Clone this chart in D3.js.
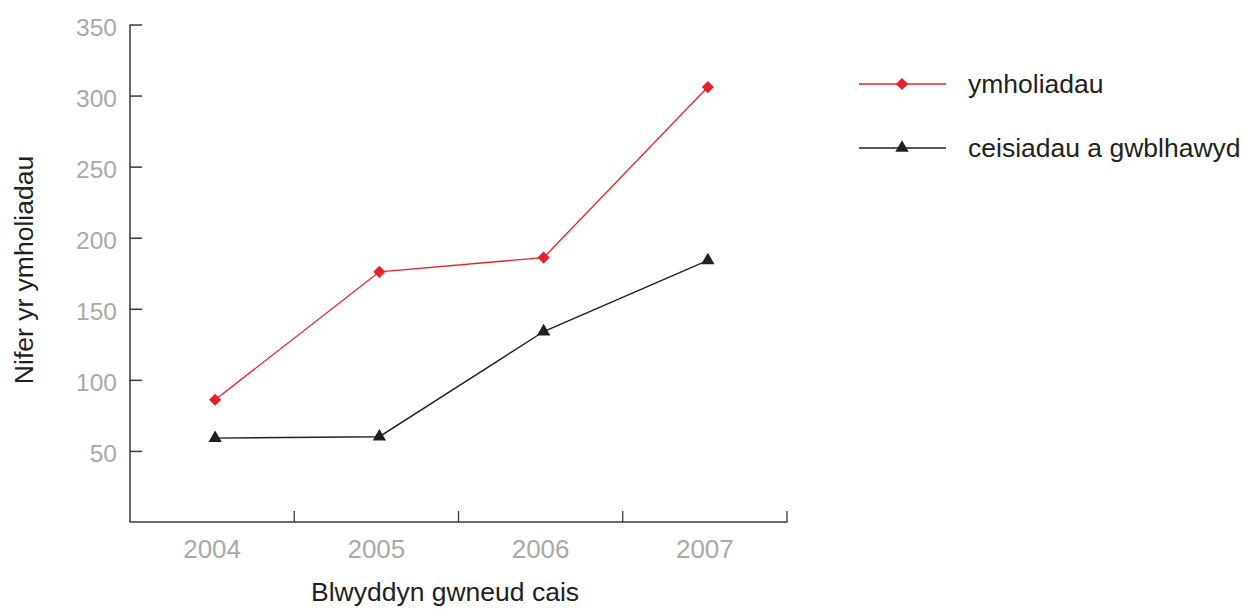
<!DOCTYPE html>
<html>
<head>
<meta charset="utf-8">
<script src="https://cdn.jsdelivr.net/npm/d3@7"></script>
<style>
  html, body { margin: 0; padding: 0; background: #fff; }
  svg { display: block; font-family: "Liberation Sans", Arial, Helvetica, sans-serif; }
</style>
</head>
<body>
<svg id="chart" width="1247" height="609"></svg>
<script>
const years = ["2004", "2005", "2006", "2007"];
const ymholiadau = [86, 176, 186, 306];
const ceisiadau = [59, 60, 134, 184];
const yTicks = [50, 100, 150, 200, 250, 300, 350];
const seriesNames = ["ymholiadau", "ceisiadau a gwblhawyd"];
const xTitle = "Blwyddyn gwneud cais";
const yTitle = "Nifer yr ymholiadau";

(function () {
const svg = d3.select("#chart");
const mLeft = 130, mRight = 787, mTop = 24.5, mBottom = 522;

const x = d3.scaleBand().domain(years).range([mLeft, mRight]);
const y = d3.scaleLinear().domain([0, 350]).range([mBottom, mTop]);

const axisColor = "#3a3a3a";
const tickGray = "#a9a9a3";
const textDark = "#231f20";

// Y axis (ticks pointing inward)
const yAxis = d3.axisRight(y).tickValues(yTicks).tickSize(12).tickFormat("");
const gy = svg.append("g").attr("transform", `translate(${mLeft},0)`).call(yAxis);
gy.select(".domain").remove();
gy.selectAll(".tick line").attr("stroke", axisColor).attr("stroke-width", 1.5);
svg.append("line")
  .attr("x1", mLeft).attr("x2", mLeft)
  .attr("y1", y(350)).attr("y2", mBottom + 0.5)
  .attr("stroke", axisColor).attr("stroke-width", 1.5);
svg.append("g").selectAll("text").data(yTicks).join("text")
  .attr("x", mLeft - 13)
  .attr("y", d => y(d))
  .attr("dy", "0.45em")
  .attr("text-anchor", "end")
  .attr("font-size", 24.5)
  .attr("fill", tickGray)
  .text(d => d);

// X axis
svg.append("line")
  .attr("x1", mLeft).attr("x2", mRight + 0.5)
  .attr("y1", mBottom).attr("y2", mBottom)
  .attr("stroke", axisColor).attr("stroke-width", 1.5);
const boundaries = years.map(d => x(d) + x.bandwidth());
svg.append("g").selectAll("line").data(boundaries).join("line")
  .attr("x1", d => d).attr("x2", d => d)
  .attr("y1", mBottom).attr("y2", mBottom - 11)
  .attr("stroke", axisColor).attr("stroke-width", 1.3);
svg.append("g").selectAll("text").data(years).join("text")
  .attr("x", d => x(d) + x.bandwidth() / 2)
  .attr("y", 558)
  .attr("text-anchor", "middle")
  .attr("font-size", 26)
  .attr("fill", tickGray)
  .text(d => d);

// Titles
svg.append("text")
  .attr("x", 445).attr("y", 601)
  .attr("text-anchor", "middle")
  .attr("font-size", 26.5)
  .attr("fill", textDark)
  .text(xTitle);
svg.append("text")
  .attr("transform", "translate(33,270) rotate(-90)")
  .attr("text-anchor", "middle")
  .attr("font-size", 26.5)
  .attr("fill", textDark)
  .text(yTitle);

// Series
const cx = d => x(d) + x.bandwidth() / 2 + 3;
const line = d3.line().x(d => cx(d.year)).y(d => y(d.value));
const series = [
  { name: seriesNames[0], values: ymholiadau, color: "#e8202a", symbol: d3.symbolDiamond2, size: 95, width: 1.3 },
  { name: seriesNames[1], values: ceisiadau, color: "#231f20", symbol: d3.symbolTriangle, size: 78, width: 1.4 }
];
series.forEach(s => {
  const pts = years.map((yr, i) => ({ year: yr, value: s.values[i] }));
  svg.append("path").datum(pts)
    .attr("d", line)
    .attr("fill", "none")
    .attr("stroke", s.color)
    .attr("stroke-width", s.width);
  svg.append("g").selectAll("path").data(pts).join("path")
    .attr("transform", d => `translate(${cx(d.year)},${y(d.value)})`)
    .attr("d", d3.symbol().type(s.symbol).size(s.size))
    .attr("fill", s.color);
});

// Legend
const legendY = [84, 148];
series.forEach((s, i) => {
  const g = svg.append("g").attr("transform", `translate(859,${legendY[i]})`);
  g.append("line").attr("x1", 0).attr("x2", 87).attr("y1", 0).attr("y2", 0)
    .attr("stroke", s.color).attr("stroke-width", s.width);
  g.append("path").attr("transform", "translate(43,0)")
    .attr("d", d3.symbol().type(s.symbol).size(s.size))
    .attr("fill", s.color);
  g.append("text").attr("x", 109).attr("y", 0).attr("dy", "0.33em")
    .attr("font-size", 26.5)
    .attr("fill", textDark)
    .text(s.name);
});
})();
</script>
</body>
</html>
